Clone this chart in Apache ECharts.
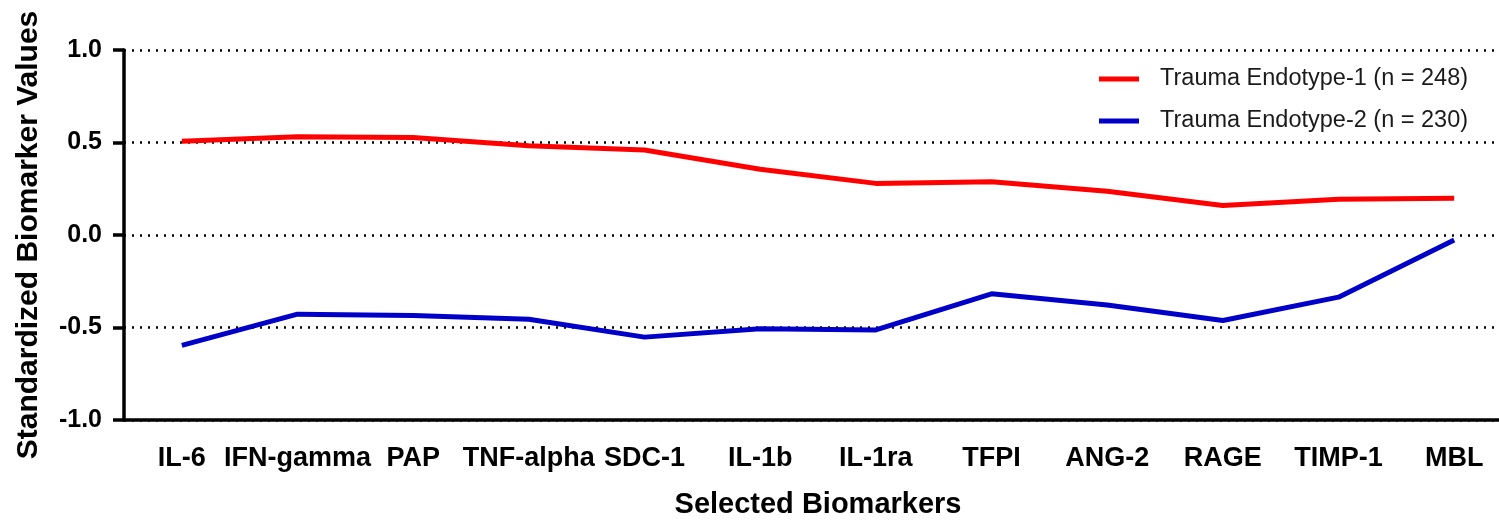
<!DOCTYPE html>
<html>
<head>
<meta charset="utf-8">
<script src="https://cdn.jsdelivr.net/npm/echarts@6/dist/echarts.min.js"></script>
<style>
  html, body { margin: 0; padding: 0; background: #fff; }
  #main { width: 1499px; height: 520px; }
</style>
</head>
<body>
<div id="main"></div>
<script>
var biomarkers = ['IL-6', 'IFN-gamma', 'PAP', 'TNF-alpha', 'SDC-1', 'IL-1b', 'IL-1ra', 'TFPI', 'ANG-2', 'RAGE', 'TIMP-1', 'MBL'];
var endotype1 = [0.507, 0.531, 0.527, 0.482, 0.459, 0.355, 0.279, 0.288, 0.237, 0.159, 0.193, 0.198];
var endotype2 = [-0.597, -0.428, -0.435, -0.455, -0.552, -0.507, -0.513, -0.318, -0.378, -0.462, -0.336, -0.027];
var yTicks = [-1.0, -0.5, 0.0, 0.5, 1.0];

var chart = echarts.init(document.getElementById('main'));

var font = 'Liberation Sans, Arial, sans-serif';

var option = {
  animation: false,
  grid: {
    left: 124,
    top: 50,
    width: 1388,
    bottom: 100,
    outerBoundsMode: 'none'
  },
  legend: {
    orient: 'vertical',
    left: 1094,
    top: 62,
    itemWidth: 40,
    itemHeight: 5,
    itemGap: 18,
    icon: 'rect',
    textStyle: {
      fontFamily: font,
      fontSize: 23.5,
      color: '#1a1a1a',
      padding: [0, 0, 0, 16]
    },
    data: ['Trauma Endotype-1 (n = 248)', 'Trauma Endotype-2 (n = 230)']
  },
  xAxis: {
    type: 'category',
    data: biomarkers,
    boundaryGap: true,
    name: 'Selected Biomarkers',
    nameLocation: 'middle',
    nameGap: 70,
    nameTextStyle: {
      fontFamily: font,
      fontSize: 29,
      fontWeight: 'bold',
      color: '#000'
    },
    axisLine: { onZero: false, lineStyle: { color: '#000', width: 3.5 } },
    axisTick: { alignWithLabel: true, length: 14, lineStyle: { color: '#000', width: 3.5 } },
    axisLabel: {
      interval: 0,
      margin: 25,
      fontFamily: font,
      fontSize: 27,
      fontWeight: 'bold',
      color: '#000'
    },
    splitLine: { show: false }
  },
  yAxis: {
    type: 'value',
    min: yTicks[0],
    max: yTicks[yTicks.length - 1],
    interval: 0.5,
    name: 'Standardized Biomarker Values',
    nameLocation: 'middle',
    nameGap: 80,
    nameTextStyle: {
      fontFamily: font,
      fontSize: 30,
      fontWeight: 'bold',
      color: '#000'
    },
    axisLine: { show: true, lineStyle: { color: '#000', width: 3.5 } },
    axisTick: { show: true, length: 11, lineStyle: { color: '#000', width: 3.5 } },
    axisLabel: {
      margin: 22,
      fontFamily: font,
      fontSize: 25,
      fontWeight: 'bold',
      color: '#000',
      formatter: function (v) { return v.toFixed(1); }
    },
    splitLine: {
      show: true,
      lineStyle: { color: '#000', width: 2.5, type: [2, 6] }
    }
  },
  series: [
    {
      name: 'Trauma Endotype-1 (n = 248)',
      type: 'line',
      data: endotype1,
      symbol: 'none',
      color: '#ff0000',
      lineStyle: { width: 5, color: '#ff0000' }
    },
    {
      name: 'Trauma Endotype-2 (n = 230)',
      type: 'line',
      data: endotype2,
      symbol: 'none',
      color: '#0000c8',
      lineStyle: { width: 5, color: '#0000c8' }
    }
  ]
};

chart.setOption(option);
</script>
</body>
</html>
